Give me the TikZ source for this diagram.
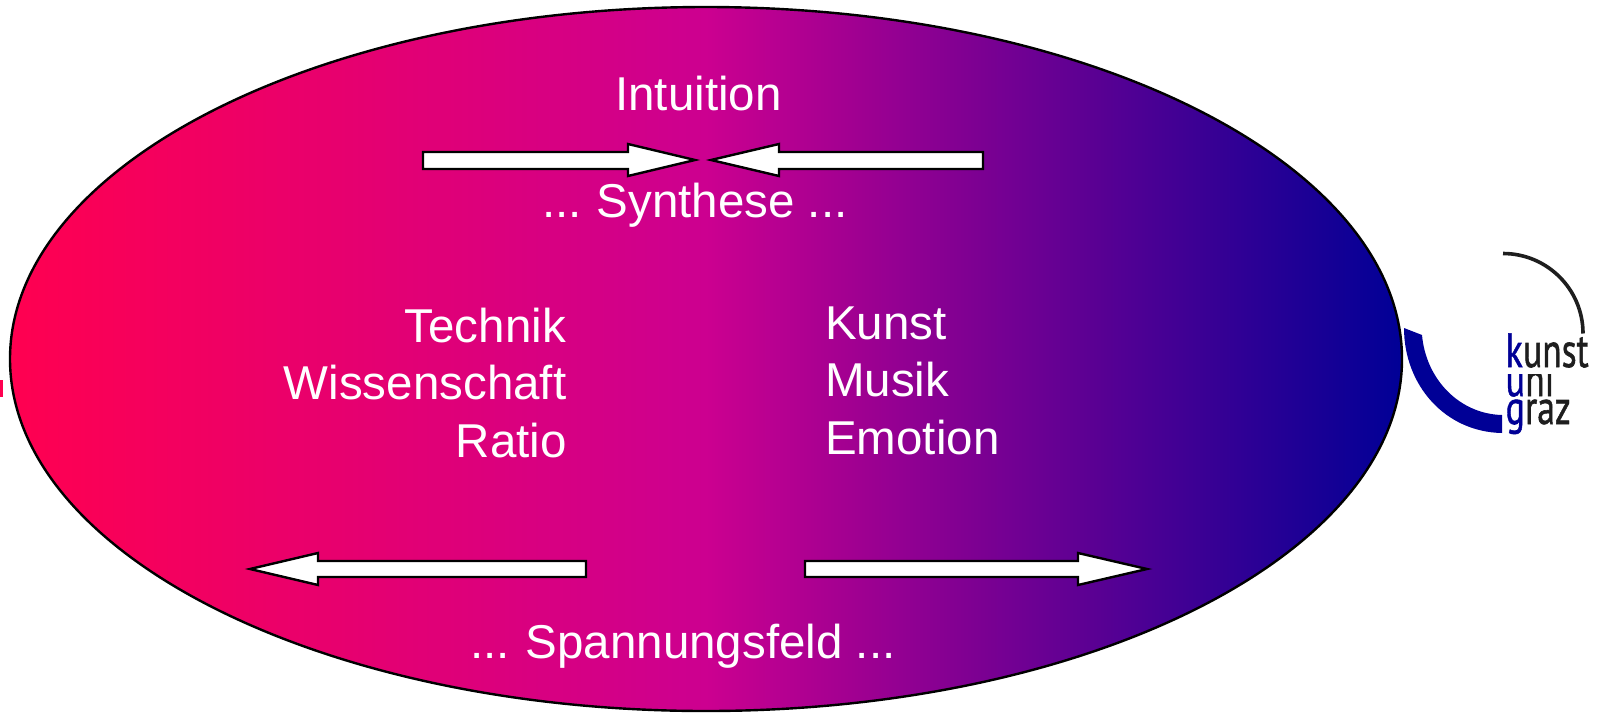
\documentclass[tikz,border=0pt]{standalone}
\usepackage{fontspec}
\usepackage{graphicx}
\setmainfont{Liberation Sans}
\newfontfamily\logofont[FakeBold=1.2]{PT Sans}
\definecolor{gradl}{RGB}{255,0,80}
\definecolor{gradm}{RGB}{204,0,144}
\definecolor{gradr}{RGB}{0,0,150}
\definecolor{logoblue}{RGB}{0,0,150}
\definecolor{logoblack}{RGB}{30,30,30}
\pgfdeclarehorizontalshading{spectrum}{100bp}{color(0bp)=(gradl); color(25bp)=(gradl); color(50bp)=(gradm); color(75bp)=(gradr); color(100bp)=(gradr)}
\tikzset{
  label text/.style={text=white,font=\fontsize{47.5}{50}\selectfont,inner sep=0pt,anchor=base},
  left label/.style={label text,anchor=base east},
  right label/.style={label text,anchor=base west},
  white arrow/.style={draw=black,fill=white,line width=2.4pt,line join=miter},
  logo text/.style={inner sep=0pt,anchor=base west,font=\logofont\fontsize{48}{48}\selectfont}
}
\newcommand{\logoscale}[1]{\scalebox{0.74}[1]{#1}}
\begin{document}
\begin{tikzpicture}[x=1pt,y=-1pt]
\useasboundingbox (0,0) rectangle (1598,713);
% small red tick at left edge
\fill[gradl] (0,380) rectangle (3,397);
% ellipse
\path[shading=spectrum,draw=black,line width=2.4pt] (706,359) ellipse [x radius=696pt,y radius=352pt];
% labels
\node[label text] (intuition) at (698.5,110) {Intuition};
\node[label text] (synthese) at (695,217) {...\hspace{-3pt} Synthese ...};
\node[left label] (technik) at (566,342) {Technik};
\node[left label] (wissen) at (566.5,399) {Wissenschaft};
\node[left label] (ratio) at (567,457) {Ratio};
\node[right label] (kunst) at (825,339) {Kunst};
\node[right label] (musik) at (825,396) {Musik};
\node[right label] (emotion) at (825,454) {Emotion};
\node[label text] (feld) at (683,658) {...\hspace{-2pt} Spannungsfeld ...};
% arrows
\draw[white arrow] (423,152)--(628,152)--(628,144)--(695,160)--(628,176)--(628,169)--(423,169)--cycle;
\draw[white arrow] (983,152)--(779,152)--(779,144)--(711,160)--(779,176)--(779,169)--(983,169)--cycle;
\draw[white arrow] (586,561)--(318,561)--(318,553)--(250,569)--(318,585)--(318,577)--(586,577)--cycle;
\draw[white arrow] (805,561)--(1078,561)--(1078,553)--(1147,569)--(1078,585)--(1078,577)--(805,577)--cycle;
% logo arcs
\draw[logoblack,line width=3.6pt] (1503,253.5) arc[start angle=90,end angle=0,radius=80pt];
\fill[logoblue] (1404,328) -- (1422,335)
  .. controls (1426,380) and (1460,414) .. (1502,415)
  -- (1502,433)
  .. controls (1445,432) and (1404,385) .. (1404,328) -- cycle;
% logo text
\node[logo text,text=logoblue] (k) at (1505.5,367) {\logoscale{k}};
\node[logo text,text=logoblack] (unst) at (k.base east) {\logoscale{unst}};
\begin{scope}
\clip (1500,374) rectangle (1598,400);
\node[logo text,text=logoblue] (u) at (1505.5,396) {\logoscale{u}};
\node[logo text,text=logoblack] (ni) at (u.base east) {\logoscale{ni}};
\end{scope}
\node[logo text,text=logoblue] (g) at (1505.5,424) {\logoscale{g}};
\node[logo text,text=logoblack] (raz) at (g.base east) {\logoscale{raz}};
\end{tikzpicture}
\end{document}
